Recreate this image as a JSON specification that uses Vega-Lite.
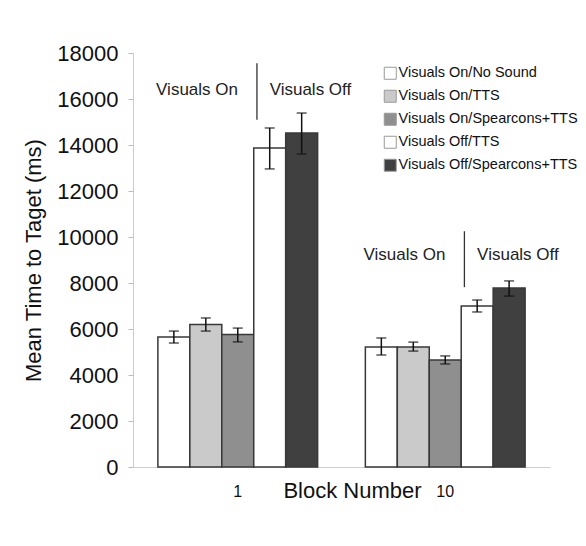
{
  "$schema": "https://vega.github.io/schema/vega-lite/v6.json",
  "autosize": "none",
  "width": 417,
  "height": 414,
  "padding": {"left": 133, "top": 53, "right": 36, "bottom": 79},
  "background": "white",
  "config": {
    "font": "Liberation Sans",
    "view": {"stroke": null},
    "axis": {"grid": false, "domainColor": "#cccccc", "tickColor": "#bbbbbb", "labelColor": "#111111", "titleColor": "#111111", "titleFontWeight": "normal"}
  },
  "datasets": {
    "bars": [
      {"block": "1", "cond": "Visuals On/No Sound", "mean": 5650, "lo": 5390, "hi": 5910},
      {"block": "1", "cond": "Visuals On/TTS", "mean": 6200, "lo": 5910, "hi": 6480},
      {"block": "1", "cond": "Visuals On/Spearcons+TTS", "mean": 5760, "lo": 5440, "hi": 6040},
      {"block": "1", "cond": "Visuals Off/TTS", "mean": 13870, "lo": 12960, "hi": 14740},
      {"block": "1", "cond": "Visuals Off/Spearcons+TTS", "mean": 14520, "lo": 13610, "hi": 15390},
      {"block": "10", "cond": "Visuals On/No Sound", "mean": 5220, "lo": 4870, "hi": 5610},
      {"block": "10", "cond": "Visuals On/TTS", "mean": 5220, "lo": 5040, "hi": 5430},
      {"block": "10", "cond": "Visuals On/Spearcons+TTS", "mean": 4650, "lo": 4480, "hi": 4830},
      {"block": "10", "cond": "Visuals Off/TTS", "mean": 7000, "lo": 6740, "hi": 7260},
      {"block": "10", "cond": "Visuals Off/Spearcons+TTS", "mean": 7780, "lo": 7430, "hi": 8090}
    ],
    "ann": [
      {"block": "1", "ty": 16400, "ry1": 17550, "ry2": 15100, "on": "Visuals On", "off": "Visuals Off"},
      {"block": "10", "ty": 9200, "ry1": 10250, "ry2": 7820, "on": "Visuals On", "off": "Visuals Off"}
    ]
  },
  "encoding": {
    "x": {
      "field": "block", "type": "nominal", "sort": ["1", "10"],
      "scale": {"paddingInner": 0.23, "paddingOuter": 0.12},
      "axis": {
        "title": "Block Number", "titleFontSize": 22, "titleX": 219, "titleY": 30, "titleBaseline": "alphabetic", "titleAlign": "center", "titleAnchor": null,
        "labelAngle": 0, "labelFontSize": 16, "labelPadding": 16, "ticks": false
      }
    }
  },
  "layer": [
    {
      "data": {"name": "bars"},
      "mark": {"type": "bar", "stroke": "#383838", "strokeWidth": 1.5},
      "encoding": {
        "xOffset": {"field": "cond", "type": "nominal", "scale": {"domain": ["Visuals On/No Sound", "Visuals On/TTS", "Visuals On/Spearcons+TTS", "Visuals Off/TTS", "Visuals Off/Spearcons+TTS"]}},
        "y": {
          "field": "mean", "type": "quantitative",
          "scale": {"domain": [0, 18000], "nice": false},
          "axis": {
            "values": [0, 2000, 4000, 6000, 8000, 10000, 12000, 14000, 16000, 18000],
            "format": "d", "labelFontSize": 22, "labelPadding": 10, "tickSize": 5,
            "title": "Mean Time to Taget (ms)", "titleFontSize": 22, "titleAngle": -90, "titleX": -100, "titleY": 207, "titleAlign": "center", "titleBaseline": "middle", "titleAnchor": null
          }
        },
        "color": {
          "field": "cond", "type": "nominal",
          "scale": {
            "domain": ["Visuals On/No Sound", "Visuals On/TTS", "Visuals On/Spearcons+TTS", "Visuals Off/TTS", "Visuals Off/Spearcons+TTS"],
            "range": ["#ffffff", "#cacaca", "#8f8f8f", "#ffffff", "#404040"]
          },
          "legend": {
            "title": null, "orient": "none", "legendX": 250, "legendY": 13,
            "labelFontSize": 14.5, "labelColor": "#111111", "labelOffset": 1, "labelLimit": 0,
            "symbolType": "square", "symbolSize": 144, "symbolStrokeColor": "#999999", "symbolStrokeWidth": 1, "symbolOpacity": 1,
            "rowPadding": 6
          }
        }
      }
    },
    {
      "data": {"name": "bars"},
      "mark": {"type": "rule", "color": "#111111", "strokeWidth": 1.5},
      "encoding": {
        "xOffset": {"field": "cond", "type": "nominal", "scale": {"domain": ["Visuals On/No Sound", "Visuals On/TTS", "Visuals On/Spearcons+TTS", "Visuals Off/TTS", "Visuals Off/Spearcons+TTS"]}},
        "y": {"field": "lo", "type": "quantitative"},
        "y2": {"field": "hi"}
      }
    },
    {
      "data": {"name": "bars"},
      "mark": {"type": "tick", "color": "#111111", "thickness": 1.5, "size": 10, "orient": "horizontal"},
      "encoding": {
        "xOffset": {"field": "cond", "type": "nominal"},
        "y": {"field": "lo", "type": "quantitative"}
      }
    },
    {
      "data": {"name": "bars"},
      "mark": {"type": "tick", "color": "#111111", "thickness": 1.5, "size": 10, "orient": "horizontal"},
      "encoding": {
        "xOffset": {"field": "cond", "type": "nominal"},
        "y": {"field": "hi", "type": "quantitative"}
      }
    },
    {
      "data": {"name": "ann"},
      "mark": {"type": "text", "fontSize": 17, "color": "#222222", "align": "center", "baseline": "middle"},
      "encoding": {
        "x": {"field": "block", "type": "nominal", "bandPosition": 0.245},
        "y": {"field": "ty", "type": "quantitative"},
        "text": {"field": "on"}
      }
    },
    {
      "data": {"name": "ann"},
      "mark": {"type": "text", "fontSize": 17, "color": "#222222", "align": "center", "baseline": "middle"},
      "encoding": {
        "x": {"field": "block", "type": "nominal", "bandPosition": 0.955},
        "y": {"field": "ty", "type": "quantitative"},
        "text": {"field": "off"}
      }
    },
    {
      "data": {"name": "ann"},
      "mark": {"type": "rule", "color": "#333333", "strokeWidth": 1.3},
      "encoding": {
        "x": {"field": "block", "type": "nominal", "bandPosition": 0.62},
        "y": {"field": "ry1", "type": "quantitative"},
        "y2": {"field": "ry2"}
      }
    }
  ]
}
